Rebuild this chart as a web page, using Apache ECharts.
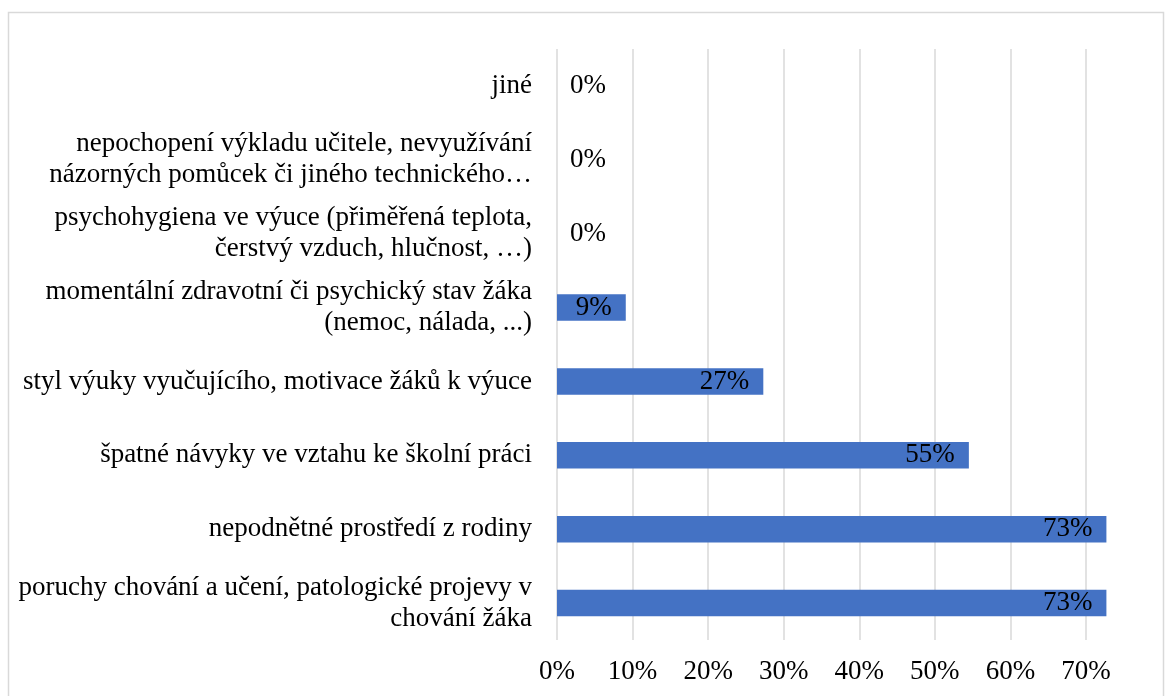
<!DOCTYPE html>
<html>
<head>
<meta charset="utf-8">
<script src="https://cdn.jsdelivr.net/npm/echarts@6/dist/echarts.min.js"></script>
<style>
html,body{margin:0;padding:0;background:#fff;}
#chart{width:1165px;height:696px;}
</style>
</head>
<body>
<div id="chart"></div>
<script>
// Categories listed top to bottom
const categories = [
  "jiné",
  "nepochopení výkladu učitele, nevyužívání\nnázorných pomůcek či jiného technického…",
  "psychohygiena ve výuce (přiměřená teplota,\nčerstvý vzduch, hlučnost, …)",
  "momentální zdravotní či psychický stav žáka\n(nemoc, nálada, ...)",
  "styl výuky vyučujícího, motivace žáků k výuce",
  "špatné návyky ve vztahu ke školní práci",
  "nepodnětné prostředí z rodiny",
  "poruchy chování a učení, patologické projevy v\nchování žáka"
];
const values = [0, 0, 0, 0.091, 0.273, 0.545, 0.727, 0.727];
const xTicks = { min: 0, max: 0.7, interval: 0.1 };

const FONT = "Liberation Serif";
const chart = echarts.init(document.getElementById('chart'));

const seriesData = values.map(v => ({
  value: v,
  label: v === 0
    ? { position: 'right', distance: 13 }
    : { position: 'insideRight', distance: 14 }
}));

chart.setOption({
  animation: false,
  backgroundColor: '#fff',
  graphic: [{
    type: 'rect',
    shape: { x: 8.5, y: 12.5, width: 1155, height: 700 },
    style: { fill: 'none', stroke: '#d9d9d9', lineWidth: 1.5 },
    silent: true
  }],
  grid: { left: 557, right: 79, top: 49, bottom: 56, containLabel: false },
  xAxis: {
    type: 'value',
    min: xTicks.min, max: xTicks.max, interval: xTicks.interval,
    axisLine: { show: false },
    axisTick: { show: false },
    splitLine: { show: true, lineStyle: { color: '#d9d9d9', width: 1.5 } },
    axisLabel: {
      margin: 18,
      color: '#000',
      fontFamily: FONT,
      fontSize: 27,
      formatter: v => Math.round(v * 100) + '%'
    }
  },
  yAxis: {
    type: 'category',
    data: categories,
    inverse: true,
    axisLine: { show: false },
    axisTick: { show: false },
    axisLabel: {
      margin: 25,
      color: '#000',
      fontFamily: FONT,
      fontSize: 27,
      lineHeight: 31,
      align: 'right'
    }
  },
  series: [{
    type: 'bar',
    data: seriesData,
    clip: false,
    barCategoryGap: '64%',
    itemStyle: { color: '#4472C4' },
    label: {
      show: true,
      color: '#000',
      fontFamily: FONT,
      fontSize: 27,
      formatter: p => Math.round(p.value * 100) + '%'
    }
  }]
});
</script>
</body>
</html>
